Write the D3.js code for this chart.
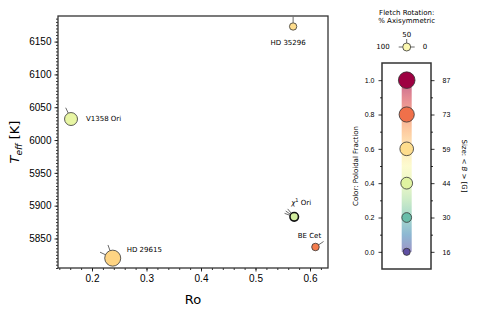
<!DOCTYPE html>
<html>
<head>
<meta charset="utf-8">
<script src="https://cdn.jsdelivr.net/npm/d3@7"></script>
<style>
  body { margin: 0; background: #fff; }
  svg { font-family: "DejaVu Sans", sans-serif; }
</style>
</head>
<body>
<svg id="chart" width="490" height="317"></svg>
<script>
// ---- data ----
const stars = ["HD 35296", "V1358 Ori", "HD 29615", "χ1 Ori", "BE Cet"];
const rossby = [0.569, 0.1615, 0.238, 0.571, 0.610];
const teff = [6173, 6032, 5820, 5883, 5837];
const poloidal = [0.6, 0.42, 0.62, 0.37, 0.78];
const fieldB = [17, 53, 81, 23, 18];
const axisym = [[50], [64], [61, 86], [72, 81, 89], [19]];

const xTicks = [0.2, 0.3, 0.4, 0.5, 0.6];
const yTicks = [5850, 5900, 5950, 6000, 6050, 6100, 6150];
const cbarTicks = [0, 0.2, 0.4, 0.6, 0.8, 1.0];
const cbarSizes = [16, 30, 44, 59, 73, 87];

// label placement (offset from point)
const labelPos = [
  { dx: -5, dy: 16, anchor: "middle" },
  { dx: 15, dy: 0, anchor: "start" },
  { dx: 14, dy: -9, anchor: "start" },
  { dx: -3, dy: -14, anchor: "start" },
  { dx: -6, dy: -11, anchor: "middle" }
];

const svg = d3.select("#chart");
const pLeft = 58, pRight = 328, pTop = 16, pBottom = 268;

const x = d3.scaleLinear().domain([0.1376, 0.633]).range([pLeft, pRight]);
const y = d3.scaleLinear().domain([5805, 6189]).range([pBottom, pTop]);
const color = p => d3.interpolateSpectral(1 - p);
const rad = d3.scaleSqrt().domain([0, 87]).range([0, 8.3]);

// axes
const xAxis = d3.axisBottom(x).tickValues(xTicks).tickFormat(d3.format(".1f")).tickSize(3.5).tickPadding(3);
const xMinor = d3.axisBottom(x).tickValues(d3.range(0.14, 0.633, 0.02)).tickFormat("").tickSize(2);
const yAxis = d3.axisLeft(y).tickValues(yTicks).tickFormat(d3.format("d")).tickSize(3.5).tickPadding(3);
const yMinor = d3.axisLeft(y).tickValues(d3.range(5805, 6189, 5)).tickFormat("").tickSize(2);

function styleAxis(g) {
  g.select(".domain").remove();
  g.selectAll("line").attr("stroke", "#000").attr("stroke-width", 0.8);
  g.selectAll("text").attr("font-size", 10).attr("fill", "#000");
}

svg.append("g").attr("transform", `translate(0,${pBottom})`).call(xMinor).call(styleAxis);
svg.append("g").attr("transform", `translate(0,${pBottom})`).call(xAxis).call(styleAxis);
svg.append("g").attr("transform", `translate(${pLeft},0)`).call(yMinor).call(styleAxis);
svg.append("g").attr("transform", `translate(${pLeft},0)`).call(yAxis).call(styleAxis);

// spines
svg.append("rect")
  .attr("x", pLeft).attr("y", pTop)
  .attr("width", pRight - pLeft).attr("height", pBottom - pTop)
  .attr("fill", "none").attr("stroke", "#333").attr("stroke-width", 1.3);

// axis labels
svg.append("text").attr("x", (pLeft + pRight) / 2).attr("y", 304)
  .attr("text-anchor", "middle").attr("font-size", 13).text("Ro");

const yl = svg.append("text")
  .attr("transform", `translate(19,${(pTop + pBottom) / 2}) rotate(-90)`)
  .attr("text-anchor", "middle").attr("font-size", 13);
yl.append("tspan").attr("font-style", "italic").text("T");
yl.append("tspan").attr("font-style", "italic").attr("font-size", 9).attr("dy", 3).text("eff");
yl.append("tspan").attr("dy", -3).text(" [K]");

// fletches + points
function fletch(g, cx, cy, r, pct, len) {
  const a = (90 - 1.8 * pct) * Math.PI / 180;
  g.append("line")
    .attr("x1", cx + r * Math.sin(a)).attr("y1", cy - r * Math.cos(a))
    .attr("x2", cx + (r + len) * Math.sin(a)).attr("y2", cy - (r + len) * Math.cos(a))
    .attr("stroke", "#444").attr("stroke-width", 0.8);
}

const pts = svg.append("g");
stars.forEach((name, i) => {
  const cx = x(rossby[i]), cy = y(teff[i]), r = rad(fieldB[i]);
  axisym[i].forEach(p => fletch(pts, cx, cy, r, p, 6));
  pts.append("circle")
    .attr("cx", cx).attr("cy", cy).attr("r", r)
    .attr("fill", color(poloidal[i]))
    .attr("stroke", i === 3 ? "#111" : "#333")
    .attr("stroke-width", i === 3 ? 1.6 : 0.8);

  const lp = labelPos[i];
  const t = pts.append("text")
    .attr("x", cx + lp.dx).attr("y", cy + lp.dy)
    .attr("dy", "0.35em").attr("text-anchor", lp.anchor)
    .attr("font-size", 7);
  if (name.startsWith("χ")) {
    t.append("tspan").attr("font-style", "italic").text("χ");
    t.append("tspan").attr("font-size", 5).attr("dy", -3).text("1");
    t.append("tspan").attr("dy", 3).text(" Ori");
  } else {
    t.text(name);
  }
});

// ---- colorbar / size legend ----
const cL = 382, cR = 431, cT = 63, cB = 269, cX = 406.7;
const cy = d3.scaleLinear().domain([-0.1, 1.1]).range([cB, cT]);

const defs = svg.append("defs");
const grad = defs.append("linearGradient").attr("id", "spec")
  .attr("x1", 0).attr("y1", 1).attr("x2", 0).attr("y2", 0);
d3.range(0, 1.001, 0.1).forEach(t => {
  grad.append("stop").attr("offset", t).attr("stop-color", color(t));
});
svg.append("rect")
  .attr("x", cX - 5).attr("y", cy(1)).attr("width", 10).attr("height", cy(0) - cy(1))
  .attr("fill", "url(#spec)").attr("opacity", 0.6);

cbarTicks.forEach((p, i) => {
  svg.append("circle")
    .attr("cx", cX).attr("cy", cy(p)).attr("r", rad(cbarSizes[i]))
    .attr("fill", color(p)).attr("stroke", "#333").attr("stroke-width", 0.8);
});

svg.append("rect").attr("x", cL).attr("y", cT)
  .attr("width", cR - cL).attr("height", cB - cT)
  .attr("fill", "none").attr("stroke", "#333").attr("stroke-width", 1.5);

const cLeft = d3.axisLeft(cy).tickValues(cbarTicks).tickFormat(d3.format(".1f")).tickSize(3.5).tickPadding(4);
const cLeftMinor = d3.axisLeft(cy).tickValues([0.1, 0.3, 0.5, 0.7, 0.9]).tickFormat("").tickSize(2);
const cRight = d3.axisRight(cy).tickValues(cbarTicks).tickFormat((d, i) => cbarSizes[i]).tickSize(3.5).tickPadding(8);
const cRightMinor = d3.axisRight(cy).tickValues([0.1, 0.3, 0.5, 0.7, 0.9]).tickFormat("").tickSize(2);

function styleSmall(g) {
  styleAxis(g);
  g.selectAll("text").attr("font-size", 7);
}
svg.append("g").attr("transform", `translate(${cL},0)`).call(cLeftMinor).call(styleSmall);
svg.append("g").attr("transform", `translate(${cL},0)`).call(cLeft).call(styleSmall);
svg.append("g").attr("transform", `translate(${cR},0)`).call(cRightMinor).call(styleSmall);
svg.append("g").attr("transform", `translate(${cR},0)`).call(cRight).call(styleSmall);

svg.append("text")
  .attr("transform", `translate(358,${(cT + cB) / 2}) rotate(-90)`)
  .attr("text-anchor", "middle").attr("font-size", 7)
  .text("Color: Poloidal Fraction");

const sl = svg.append("text")
  .attr("transform", `translate(462,${(cT + cB) / 2}) rotate(90)`)
  .attr("text-anchor", "middle").attr("font-size", 7);
sl.append("tspan").text("Size: < ");
sl.append("tspan").attr("font-style", "italic").text("B");
sl.append("tspan").text(" > [G]");

// fletch legend
const fl = svg.append("g").attr("font-size", 7).attr("text-anchor", "middle");
fl.append("text").attr("x", cX).attr("y", 15).text("Fletch Rotation:");
fl.append("text").attr("x", cX).attr("y", 23).text("% Axisymmetric");
fl.append("text").attr("x", cX).attr("y", 37).text("50");
fl.append("text").attr("x", 383).attr("y", 47).attr("dy", "0.35em").text("100");
fl.append("text").attr("x", 425).attr("y", 47).attr("dy", "0.35em").text("0");
[0, 50, 100].forEach(p => fletch(fl, cX, 47, 4, p, 4));
fl.append("circle").attr("cx", cX).attr("cy", 47).attr("r", 4)
  .attr("fill", color(0.5)).attr("stroke", "#333").attr("stroke-width", 0.8);
</script>
</body>
</html>
